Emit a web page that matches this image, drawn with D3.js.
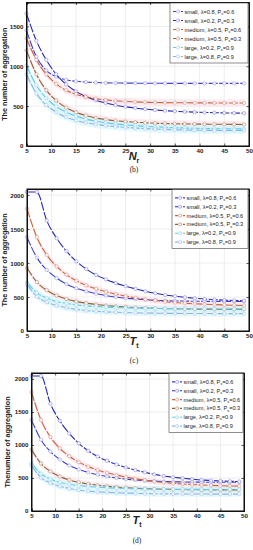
<!DOCTYPE html>
<html><head><meta charset="utf-8">
<script src="https://cdn.jsdelivr.net/npm/d3@7"></script>
<style>body{margin:0;background:#fff}svg{display:block}</style>
</head><body>
<svg id="c" width="253" height="550"></svg>
<script>
// ---- data ----
const xValues = [5,7,9,11,13,15,17,19,21,23,25,27,29,31,33,35,37,39,41,43,45,47,49];
const seriesNames = ["small, λ=0.8, P","small, λ=0.2, P","medium, λ=0.5, P","medium, λ=0.5, P","large, λ=0.2, P","large, λ=0.8, P"];
const seriesPs = ["=0.6","=0.3","=0.6","=0.3","=0.9","=0.9"];
const xTicks = [5,10,15,20,25,30,35,40,45,50];
const yTicks = [0,500,1000,1500,2000];
// panel (b): versus N_r
const b_small1  = [1450,1120,950,870,830,812,802,796,792,790,789,788,787,787,786,786,786,785,785,785,785,785,785];
const b_small2  = [1660,1320,1080,900,775,685,620,575,540,512,492,476,463,452,443,436,430,425,421,418,415,413,411];
const b_medium1 = [1350,1080,900,780,700,650,617,594,578,567,559,553,549,546,544,543,542,541,541,540,540,540,540];
const b_medium2 = [1200,900,700,570,482,422,382,352,332,317,306,298,291,286,282,279,277,275,274,273,272,271,270];
const b_large1  = [1010,760,600,495,425,375,338,312,292,277,265,255,247,240,234,229,225,222,219,217,216,215,214];
const b_large2  = [900,660,515,425,362,320,292,272,256,243,233,225,218,212,208,204,201,199,197,196,195,195,194];
// panels (c) and (d): versus T_t
const c_small1  = [1380,1080,900,780,690,630,585,550,522,500,483,470,460,452,446,442,440,438,437,436,436,435,435];
const c_small2  = [2045,2045,1625,1365,1175,1025,912,825,760,705,660,620,585,555,530,512,496,482,470,462,455,450,446];
const c_medium1 = [1800,1380,1120,950,830,740,672,620,578,543,513,488,467,448,432,419,409,401,394,388,383,379,376];
const c_medium2 = [930,720,600,522,470,435,410,390,375,363,353,345,339,334,330,327,325,323,322,321,320,320,320];
const c_large1  = [720,565,485,435,405,385,370,360,352,346,341,337,334,332,330,329,328,327,327,326,326,326,326];
const c_large2  = [690,505,425,375,342,318,301,290,282,276,271,267,264,262,260,259,258,257,257,256,256,256,256];

const colors = ["#3c3cd4","#2626b0","#c8643c","#8a6436","#5ccde6","#88b4ea"];
const markerStroke = ["#9a9af0","#8c8ce8","#d89a80","#b8946a","#9adcee","#aac8f2"];
const bandColors = [null,null,"#ffdce8","#ffdce8","#d2f4fb","#d2f4fb"];

const svg = d3.select("#c");

function drawPanel(cfg, data){
  const x = d3.scaleLinear().domain([5,50]).range([cfg.l, cfg.r]);
  const y = d3.scaleLinear().domain([0, cfg.ymax]).range([cfg.b, cfg.t]);
  const g = svg.append("g");
  // grid
  g.selectAll(".gx").data(xTicks).enter().append("line")
    .attr("x1",d=>x(d)).attr("x2",d=>x(d)).attr("y1",cfg.t).attr("y2",cfg.b)
    .attr("stroke","#e2e2e2").attr("stroke-width",0.6);
  const yt = yTicks.filter(v=>v<=cfg.ymax);
  g.selectAll(".gy").data(yt).enter().append("line")
    .attr("x1",cfg.l).attr("x2",cfg.r).attr("y1",d=>y(d)).attr("y2",d=>y(d))
    .attr("stroke","#e2e2e2").attr("stroke-width",0.6);
  // faint bands behind medium/large series
  const area = d3.area().x((d,i)=>x(xValues[i])).y0(d=>y(Math.max(0,d-45))).y1(d=>y(d+45)).curve(d3.curveMonotoneX);
  data.forEach((s,k)=>{
    if(!bandColors[k]) return;
    g.append("path").attr("d",area(s)).attr("fill",bandColors[k]).attr("opacity",0.55);
  });
  // series
  const line = d3.line().x((d,i)=>x(xValues[i])).y(d=>y(d)).curve(d3.curveMonotoneX);
  data.forEach((s,k)=>{
    g.append("path").attr("d",line(s)).attr("fill","none")
      .attr("stroke",colors[k]).attr("stroke-width",1.1).attr("stroke-dasharray","9,1.5");
    g.selectAll(null).data(s).enter().append("circle")
      .attr("cx",(d,i)=>x(xValues[i])).attr("cy",d=>y(d)).attr("r",1.7)
      .attr("fill","#f6f6ff").attr("stroke",markerStroke[k]).attr("stroke-width",0.6);
  });
  // axes
  const fmt = d3.format("d");
  const ax = d3.axisBottom(x).tickValues(xTicks).tickSize(-2.5).tickPadding(3).tickFormat(fmt);
  g.append("g").attr("transform",`translate(0,${cfg.b})`).call(ax);
  const ay = d3.axisLeft(y).tickValues(yt).tickSize(-2.5).tickPadding(3).tickFormat(fmt);
  g.append("g").attr("transform",`translate(${cfg.l},0)`).call(ay);
  const axTop = d3.axisTop(x).tickValues(xTicks).tickSize(-2.5).tickFormat("");
  g.append("g").attr("transform",`translate(0,${cfg.t})`).call(axTop);
  const ayR = d3.axisRight(y).tickValues(yt).tickSize(-2.5).tickFormat("");
  g.append("g").attr("transform",`translate(${cfg.r},0)`).call(ayR);
  g.selectAll(".domain").attr("stroke","#111").attr("stroke-width",1);
  g.selectAll(".tick line").attr("stroke","#111").attr("stroke-width",0.7);
  g.selectAll(".tick text").attr("font-family","Liberation Sans, Arial").attr("font-size",6.2)
    .attr("font-weight","bold").attr("fill","#222");
  // frame
  g.append("rect").attr("x",cfg.l).attr("y",cfg.t).attr("width",cfg.r-cfg.l).attr("height",cfg.b-cfg.t)
    .attr("fill","none").attr("stroke","#111").attr("stroke-width",1);
  // y title
  g.append("text").attr("transform",`translate(${cfg.yt},${(cfg.t+cfg.b)/2}) rotate(-90)`)
    .attr("text-anchor","middle").attr("font-family","Liberation Sans, Arial").attr("font-size",7.2)
    .attr("font-weight","bold").attr("fill","#222").text(cfg.ylabel);
  // x title
  const xt = g.append("text").attr("x",cfg.xtx).attr("y",cfg.xty).attr("text-anchor","middle")
    .attr("font-family","Liberation Sans, Arial").attr("font-size",11).attr("font-weight","bold")
    .attr("font-style","italic").attr("fill","#222");
  xt.append("tspan").text(cfg.xlabel);
  xt.append("tspan").attr("font-size",7).attr("font-style","normal").attr("dy",3).text(cfg.xsub);
  // caption
  g.append("text").attr("x",cfg.xtx).attr("y",cfg.capy).attr("text-anchor","middle")
    .attr("font-family","Liberation Serif, Times New Roman").attr("font-size",7.5).attr("fill","#222").text(cfg.cap);
  // legend
  const lg = g.append("g");
  lg.append("rect").attr("x",cfg.lx).attr("y",cfg.ly).attr("width",cfg.r-cfg.lx-1).attr("height",cfg.lh)
    .attr("fill","#fff").attr("stroke","#444").attr("stroke-width",0.6);
  const step = (cfg.lh-6)/6;
  seriesNames.forEach((nm,k)=>{
    const yy = cfg.ly + 4 + step*(k+0.5);
    lg.append("line").attr("x1",cfg.lx+3).attr("x2",cfg.lx+13).attr("y1",yy).attr("y2",yy)
      .attr("stroke",colors[k]).attr("stroke-width",1.1).attr("stroke-dasharray","3,1");
    lg.append("circle").attr("cx",cfg.lx+8).attr("cy",yy).attr("r",1.6)
      .attr("fill","#f4f4ff").attr("stroke",markerStroke[k]).attr("stroke-width",0.6);
    const t = lg.append("text").attr("x",cfg.lx+14.5).attr("y",yy+2)
      .attr("font-family","Liberation Sans, Arial").attr("font-size",5.6).attr("fill","#222");
    t.append("tspan").text(nm);
    t.append("tspan").attr("font-size",4).attr("dy",1.2).text("s");
    t.append("tspan").attr("dy",-1.2).text(seriesPs[k]);
  });
}

drawPanel({l:26.5,r:249,t:2.5,b:146,ymax:1800,yt:7,ylabel:"The number of aggregation",
  xlabel:"N",xsub:"r",xtx:134,xty:160,cap:"(b)",capy:172,lx:170,ly:3,lh:60},
  [b_small1,b_small2,b_medium1,b_medium2,b_large1,b_large2]);
drawPanel({l:27,r:249,t:189,b:331,ymax:2090,yt:7,ylabel:"The number of aggregation",
  xlabel:"T",xsub:"t",xtx:134,xty:345,cap:"(c)",capy:363,lx:172,ly:189.5,lh:59},
  [c_small1,c_small2,c_medium1,c_medium2,c_large1,c_large2]);
drawPanel({l:31.5,r:244,t:373,b:511,ymax:2090,yt:10,ylabel:"Thenumber of aggregation",
  xlabel:"T",xsub:"t",xtx:137,xty:524,cap:"(d)",capy:543,lx:169,ly:373.5,lh:59},
  [c_small1,c_small2,c_medium1,c_medium2,c_large1,c_large2]);
</script>
</body></html>
